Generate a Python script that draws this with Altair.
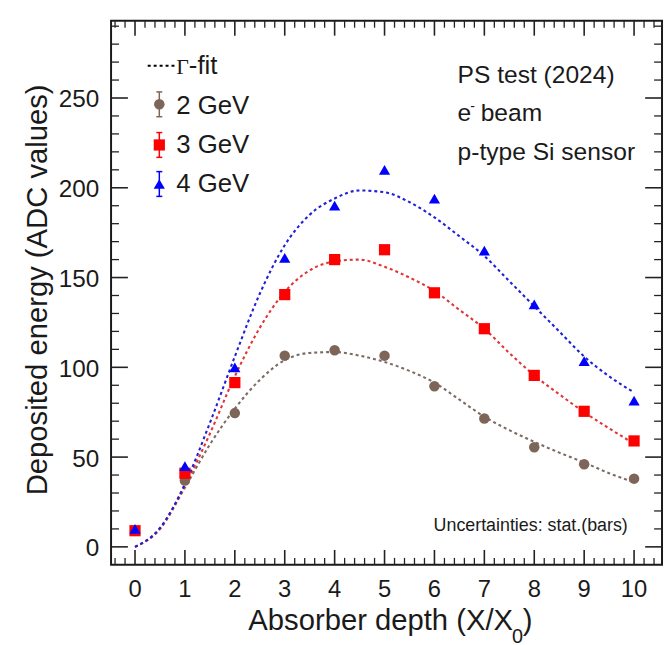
import altair as alt
import pandas as pd

# ---------------- data ----------------
depth = [0, 1, 2, 3, 4, 5, 6, 7, 8, 9, 10]
adc_2gev = [9, 37, 74.5, 106.5, 109.5, 106.5, 89.5, 71.5, 55.5, 46, 38]
adc_3gev = [9, 41, 91.5, 140.5, 160, 165.5, 141.5, 121.5, 95.5, 75.5, 59]
adc_4gev = [10, 45, 100, 161, 190, 210, 194, 165, 135, 103.5, 81.5]

fit_depth = [0, 0.5, 1, 1.5, 2, 2.5, 3, 3.5, 4, 4.5, 5, 5.5, 6, 6.5, 7, 7.5, 8, 8.5, 9, 9.5, 10]
fit_2gev = [0, 10, 33, 57, 77, 93, 104, 108, 108.5, 106.5, 103, 98, 91.5, 82, 72.5, 65, 58.5, 52.5, 47, 41, 36]
fit_3gev = [0, 10, 34, 63, 95, 122, 142, 154, 159, 160, 156, 150, 142.5, 132, 121.5, 108, 95.5, 85, 75, 66, 57.5]
fit_4gev = [0, 10.5, 35, 69, 106, 141, 168, 185, 194, 198.5, 197.5, 192, 183.5, 173, 162, 148, 134, 120, 106, 95, 86]

series = ["2 GeV", "3 GeV", "4 GeV"]
marker_colors = ["#7d6558", "#ff0000", "#0000ff"]
fit_colors = ["#7a6c64", "#e23434", "#2020d6"]
shapes = ["circle", "square", "triangle-up"]
sizes = [112, 128, 128]

x_major = [0, 1, 2, 3, 4, 5, 6, 7, 8, 9, 10]
x_labels = ["0", "1", "2", "3", "4", "5", "6", "7", "8", "9", "10"]
x_minor = [round(-0.4 + 0.2 * i, 1) for i in range(55) if abs((-0.4 + 0.2 * i) - round(-0.4 + 0.2 * i)) > 1e-6]
y_major = [0, 50, 100, 150, 200, 250]
y_labels = ["0", "50", "100", "150", "200", "250"]
y_minor = [v for v in range(10, 300, 10) if v % 50 != 0]

W, H = 556, 549
FONT = "Liberation Sans"
INK = "#1a1a1a"

xs = alt.Scale(domain=[-0.48, 10.56], nice=False, zero=False)
ys = alt.Scale(domain=[-10, 293], nice=False, zero=False)


def X(f="x"):
    return alt.X(f"{f}:Q", scale=xs, axis=None)


def Y(f="y"):
    return alt.Y(f"{f}:Q", scale=ys, axis=None)


layers = []

# ---------------- fit curves ----------------
fit_rows = []
for name, vals in zip(series, [fit_2gev, fit_3gev, fit_4gev]):
    for xv, yv in zip(fit_depth, vals):
        fit_rows.append({"x": xv, "y": yv, "series": name})
fit_df = pd.DataFrame(fit_rows)
layers.append(
    alt.Chart(fit_df)
    .mark_line(strokeDash=[3, 3], strokeWidth=2.1, interpolate="monotone")
    .encode(
        x=X(), y=Y(),
        color=alt.Color("series:N", scale=alt.Scale(domain=series, range=fit_colors), legend=None),
    )
)

# ---------------- data points ----------------
for name, vals, col, shp, sz in zip(series, [adc_2gev, adc_3gev, adc_4gev], marker_colors, shapes, sizes):
    df = pd.DataFrame({"x": depth, "y": vals})
    layers.append(
        alt.Chart(df)
        .mark_point(shape=shp, size=sz, filled=True, opacity=1, color=col, strokeWidth=0)
        .encode(x=X(), y=Y())
    )

# ---------------- ticks (ROOT style, inside, all four sides) ----------------
tick_col = "#222222"
xmaj_df = pd.DataFrame({"v": x_major})
xmin_df = pd.DataFrame({"v": x_minor})
ymaj_df = pd.DataFrame({"v": y_major})
ymin_df = pd.DataFrame({"v": y_minor})
for df, ln, sw in [(xmaj_df, 15, 1.6), (xmin_df, 7, 1.3)]:
    layers.append(alt.Chart(df).mark_rule(color=tick_col, strokeWidth=sw)
                  .encode(x=X("v"), y=alt.value(H), y2=alt.value(H - ln)))
    layers.append(alt.Chart(df).mark_rule(color=tick_col, strokeWidth=sw)
                  .encode(x=X("v"), y=alt.value(0), y2=alt.value(ln)))
for df, ln, sw in [(ymaj_df, 17, 1.6), (ymin_df, 8, 1.3)]:
    layers.append(alt.Chart(df).mark_rule(color=tick_col, strokeWidth=sw)
                  .encode(y=Y("v"), x=alt.value(0), x2=alt.value(ln)))
    layers.append(alt.Chart(df).mark_rule(color=tick_col, strokeWidth=sw)
                  .encode(y=Y("v"), x=alt.value(W), x2=alt.value(W - ln)))

# ---------------- tick labels ----------------
xl_df = pd.DataFrame({"v": x_major, "t": x_labels})
layers.append(
    alt.Chart(xl_df).mark_text(font=FONT, fontSize=24, color=INK, align="center", baseline="alphabetic")
    .encode(x=X("v"), y=alt.value(581.5), text="t:N")
)
yl_df = pd.DataFrame({"v": y_major, "t": y_labels})
layers.append(
    alt.Chart(yl_df).mark_text(font=FONT, fontSize=24.5, color=INK, align="right", baseline="middle", dy=2.5)
    .encode(y=Y("v"), x=alt.value(-12), text="t:N")
)


def txt(s, x, y, size, align="left", baseline="alphabetic", angle=0, font=FONT):
    kw = dict(font=font, fontSize=size, color=INK, align=align, baseline=baseline)
    if angle:
        kw["angle"] = angle
    return (alt.Chart(pd.DataFrame({"t": [s]})).mark_text(**kw)
            .encode(x=alt.value(x), y=alt.value(y), text="t:N"))


# ---------------- axis titles ----------------
layers.append(txt("Deposited energy (ADC values)", -65, 271.5, 29.5, align="center", angle=270))
layers.append(txt("Absorber depth (X/X", 405.7, 615, 29.5, align="right"))
layers.append(txt("0", 404.5, 628, 20))
layers.append(txt(")", 415.5, 615, 29.5))

# ---------------- annotation texts ----------------
layers.append(txt("PS test (2024)", 349.7, 62.7, 24.8))
layers.append(txt("e", 349.7, 101.3, 24.8))
layers.append(txt("-", 362.5, 91, 14))
layers.append(txt("beam", 373, 101.3, 24.8))
layers.append(txt("p-type Si sensor", 349.7, 140.3, 24.8))
layers.append(txt("Uncertainties: stat.(bars)", 325.5, 514.5, 18))

# ---------------- legend ----------------
one = pd.DataFrame({"k": [0]})
layers.append(alt.Chart(one).mark_rule(color="#000000", strokeWidth=2, strokeDash=[3, 3])
              .encode(x=alt.value(37), x2=alt.value(64), y=alt.value(45.3)))
layers.append(txt("\u0393", 65.7, 53.7, 22, font="Liberation Serif"))
layers.append(txt("-fit", 78.5, 53.7, 26))

leg_y = [84.3, 125.3, 164.7]
leg_base = [93.7, 133.7, 172.7]
lx = 48.7
for name, col, shp, sz, yy, yb in zip(series, marker_colors, shapes, sizes, leg_y, leg_base):
    layers.append(alt.Chart(one).mark_rule(color=col, strokeWidth=1.5)
                  .encode(x=alt.value(lx), y=alt.value(yy - 12.5), y2=alt.value(yy + 12.5)))
    for cy in (yy - 12.5, yy + 12.5):
        layers.append(alt.Chart(one).mark_rule(color=col, strokeWidth=1.5)
                      .encode(x=alt.value(lx - 3), x2=alt.value(lx + 3), y=alt.value(cy)))
    layers.append(alt.Chart(one).mark_point(shape=shp, size=sz, filled=True, opacity=1, color=col, strokeWidth=0)
                  .encode(x=alt.value(lx), y=alt.value(yy)))
    layers.append(txt(name, 65.7, yb, 26))

chart = (
    alt.layer(*layers)
    .properties(width=W, height=H, autosize="none",
                padding={"left": 104, "top": 10, "right": 2, "bottom": 78},
                background="white")
    .configure_view(stroke=INK, strokeWidth=2)
)

chart.save("out.html", embed_options={"renderer": "svg", "actions": False})
